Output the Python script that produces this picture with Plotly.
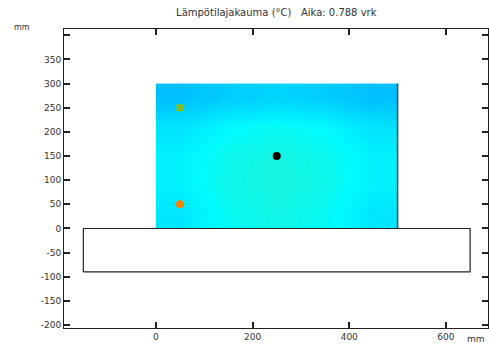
import plotly.graph_objects as go

# Temperature field (relative, estimated from colours) on a 5x5 grid over the domain
field_x_edges = [0, 100, 200, 300, 400, 500]
field_y_edges = [0, 60, 120, 180, 240, 300]
field_z = [
    [0.60, 0.88, 0.96, 0.88, 0.60],
    [0.72, 0.94, 1.00, 0.94, 0.72],
    [0.72, 0.92, 0.98, 0.92, 0.72],
    [0.58, 0.80, 0.88, 0.80, 0.58],
    [0.15, 0.32, 0.40, 0.32, 0.15],
]

# Lower block (foundation) outline
block_x = [-150, 650, 650, -150, -150]
block_y = [-90, -90, 0, 0, -90]

# Sensor points
pt_green = ([50], [250])
pt_orange = ([50], [50])
pt_black = ([250], [150])

x_ticks = [0, 200, 400, 600]
y_ticks = [-200, -150, -100, -50, 0, 50, 100, 150, 200, 250, 300, 350, 400]
y_ticktext = ["-200", "-150", "-100", "-50", "0", "50", "100", "150", "200", "250", "300", "350", ""]

title_text = "Lämpötilajakauma (°C)   Aika: 0.788 vrk"

fig = go.Figure()

fig.add_trace(go.Heatmap(
    x=field_x_edges, y=field_y_edges, z=field_z,
    zsmooth="best", showscale=False, hoverinfo="skip",
    colorscale=[[0, "#00b4ff"], [0.3, "#00ccff"], [0.6, "#00e6ff"],
                [0.82, "#00fcff"], [1, "#16f4de"]],
    zmin=0.0, zmax=1.0,
))

fig.add_trace(go.Scatter(
    x=[field_x_edges[-1], field_x_edges[-1]], y=[field_y_edges[0], field_y_edges[-1]],
    mode="lines", line=dict(color="#2a4a5a", width=1.5), showlegend=False, hoverinfo="skip",
))

fig.add_trace(go.Scatter(
    x=block_x, y=block_y, mode="lines", fill="toself", fillcolor="white",
    line=dict(color="#222222", width=1.2), showlegend=False, hoverinfo="skip",
))

fig.add_trace(go.Scatter(x=pt_green[0], y=pt_green[1], mode="markers",
                         marker=dict(symbol="square", size=7, color="#80c020"), showlegend=False))
fig.add_trace(go.Scatter(x=pt_orange[0], y=pt_orange[1], mode="markers",
                         marker=dict(symbol="circle", size=8, color="#ff8000"), showlegend=False))
fig.add_trace(go.Scatter(x=pt_black[0], y=pt_black[1], mode="markers",
                         marker=dict(symbol="circle", size=8, color="black"), showlegend=False))

axis_common = dict(
    showgrid=False, zeroline=False, showline=True, linecolor="#222222", linewidth=1,
    mirror="allticks", ticks="inside", ticklen=6, tickcolor="#222222", tickwidth=1.5,
    tickfont=dict(family="DejaVu Sans", size=9, color="#333333"),
)

fig.update_layout(
    width=489, height=351,
    margin=dict(l=64, r=1, t=29, b=23),
    paper_bgcolor="white", plot_bgcolor="white",
    title=dict(text=title_text, x=0.565, xanchor="center", y=0.975, yanchor="top",
               font=dict(family="DejaVu Sans", size=10, color="#333333")),
    xaxis=dict(range=[-190, 687], tickvals=x_ticks, **axis_common),
    yaxis=dict(range=[-206, 413], tickvals=y_ticks, ticktext=y_ticktext, **axis_common),
    annotations=[
        dict(text="mm", x=662, y=-206, xref="x", yref="y", yanchor="top",
             yshift=-4, showarrow=False,
             font=dict(family="DejaVu Sans", size=9, color="#333333")),
        dict(text="mm", x=-0.1, y=1.0, xref="paper", yref="paper",
             xanchor="center", yanchor="middle", yshift=2, showarrow=False,
             font=dict(family="DejaVu Sans", size=8, color="#333333")),
    ],
)

fig.write_html("out.html")
